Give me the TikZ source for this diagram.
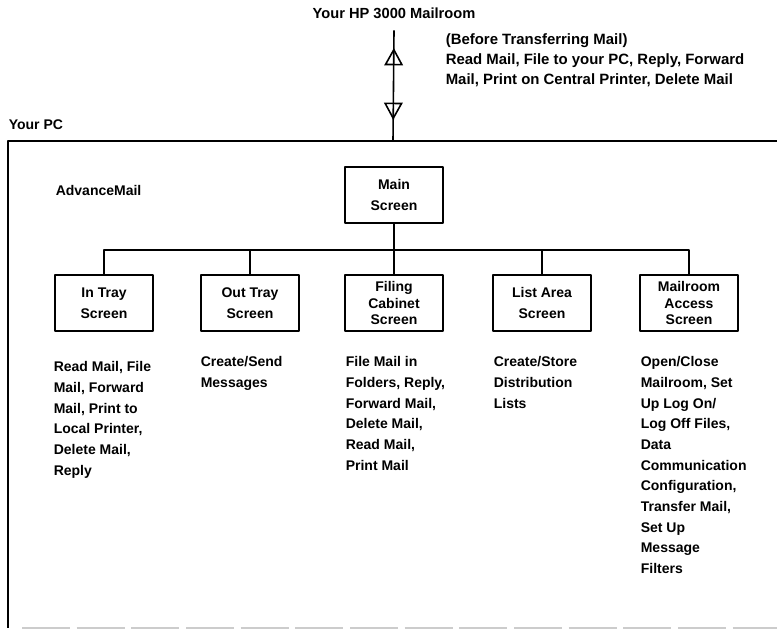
\documentclass[tikz,border=0pt]{standalone}
\usepackage{fontspec}
\setmainfont{Liberation Sans}
\usetikzlibrary{arrows.meta,decorations.markings}
\tikzset{
  screen/.style={draw,minimum width=73.5pt,minimum height=42pt,align=center,inner sep=1pt},
  duty/.style={anchor=north west,align=left,inner sep=0pt},
  openup/.style={decoration={markings,
      mark=at position 0.16 with {\arrowreversed[line width=1.2pt]{Triangle[open,width=14pt,length=13pt]}},
      mark=at position 0.81 with {\arrow[line width=1.2pt]{Triangle[open,width=14pt,length=13pt]}}},
    postaction={decorate}},
}
\begin{document}
\begin{tikzpicture}[x=0.75pt,y=-0.75pt,line width=1.2pt,line join=round,
    font=\fontsize{10.5}{15.5}\selectfont\bfseries]
    \useasboundingbox (0,0) rectangle (777,629);
    \node[font=\fontsize{11}{15}\selectfont\bfseries] (hp) at (394,13) {Your HP 3000 Mailroom};
    \node[duty,font=\fontsize{11.2}{15}\selectfont\bfseries] (before) at (445,33) {(Before Transferring Mail)\\Read Mail, File to your PC, Reply, Forward\\Mail, Print on Central Printer, Delete Mail};
    \node[anchor=west,inner sep=0pt] (pc) at (8,125) {Your PC};
    \coordinate (pctop) at (393,141);
    \draw (777,141) -- (8,141) -- (8,628);
    \draw[gray!40,line width=0.9pt,dash pattern=on 36pt off 5pt] (22,628) -- (777,628);
    \draw[openup] ([yshift=-5pt]hp.south) -- (pctop);
    \node[anchor=west,inner sep=0pt] (advmail) at (55,190) {AdvanceMail};
    \node[screen] (main) at (394,195) {Main\\Screen};
    \coordinate (bus) at (394,250);
    \draw (main) -- (bus);
    \foreach \n/\x/\t in {intray/104/{In Tray\\Screen},outtray/250/{Out Tray\\Screen},
        filing/394/{Filing\\[-3pt]Cabinet\\[-3pt]Screen},list/542/{List Area\\Screen},
        access/689/{Mailroom\\[-3pt]Access\\[-3pt]Screen}}{%
        \node[screen] (\n) at (\x,303) {\t};
        \draw (\n.north) |- (bus);
    }%
    \node[duty] (intraytxt) at (53,361) {Read Mail, File\\Mail, Forward\\Mail, Print to\\Local Printer,\\Delete Mail,\\Reply};
    \node[duty] (outtraytxt) at (200,356) {Create/Send\\Messages};
    \node[duty] (filingtxt) at (345,356) {File Mail in\\Folders, Reply,\\Forward Mail,\\Delete Mail,\\Read Mail,\\Print Mail};
    \node[duty] (listtxt) at (493,356) {Create/Store\\Distribution\\Lists};
    \node[duty] (accesstxt) at (640,356) {Open/Close\\Mailroom, Set\\Up Log On/\\Log Off Files,\\Data\\Communication\\Configuration,\\Transfer Mail,\\Set Up\\Message\\Filters};
\end{tikzpicture}
\end{document}
